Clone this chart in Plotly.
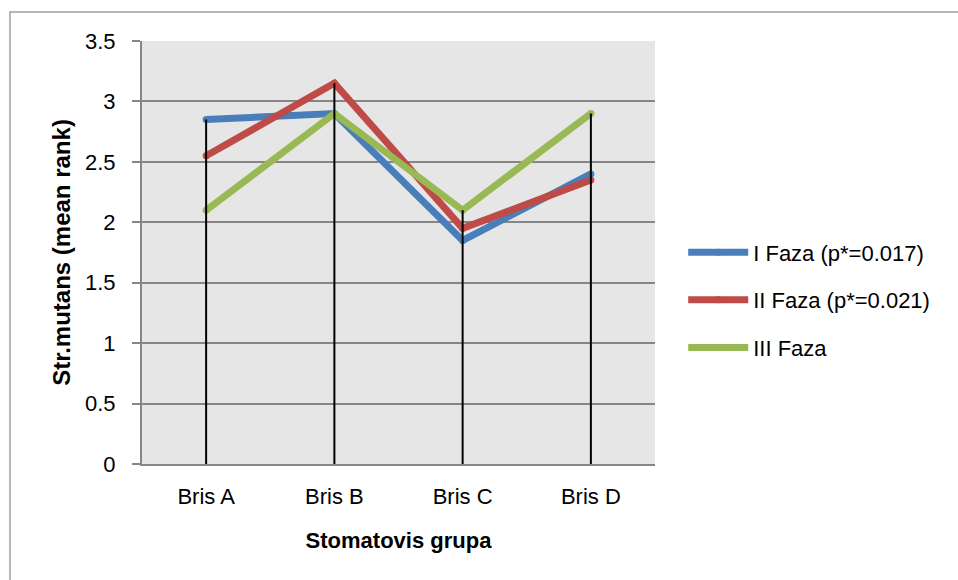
import plotly.graph_objects as go

# Mean rank of Str. mutans per swab group, for each phase
categories = ["Bris A", "Bris B", "Bris C", "Bris D"]
faza_1 = [2.85, 2.90, 1.85, 2.40]
faza_2 = [2.55, 3.15, 1.95, 2.35]
faza_3 = [2.10, 2.90, 2.10, 2.90]
series_names = ["I Faza (p*=0.017)", "II Faza (p*=0.021)", "III Faza"]
series_colors = ["#4A7EBB", "#BE4B48", "#98B954"]
y_ticks = [0, 0.5, 1, 1.5, 2, 2.5, 3, 3.5]
y_tick_labels = ["0", "0.5", "1", "1.5", "2", "2.5", "3", "3.5"]

FONT = "Liberation Sans, Arial, sans-serif"

fig = go.Figure()

# Thick lines; same-colour round markers give the rounded joins and ends
for name, vals, color in zip(series_names, [faza_1, faza_2, faza_3], series_colors):
    fig.add_trace(go.Scatter(
        x=categories, y=vals, name=name, mode="lines+markers",
        line=dict(color=color, width=7),
        marker=dict(color=color, size=7, symbol="circle", line=dict(width=0)),
        legendgroup=name,
    ))

# Drop lines from the highest series value down to the category axis
drop_x, drop_y = [], []
for i, cat in enumerate(categories):
    top = max(faza_1[i], faza_2[i], faza_3[i])
    drop_x += [cat, cat, None]
    drop_y += [0, top, None]
fig.add_trace(go.Scatter(
    x=drop_x, y=drop_y, mode="lines", showlegend=False,
    line=dict(color="black", width=2), hoverinfo="skip",
))

fig.update_layout(
    width=958, height=580,
    margin=dict(l=142, r=303, t=41, b=116),
    paper_bgcolor="white",
    plot_bgcolor="#E6E6E6",
    font=dict(family=FONT, size=22, color="black"),
    showlegend=True,
    legend=dict(
        x=1.055, y=0.388, xanchor="left", yanchor="middle",
        font=dict(family=FONT, size=22, color="black"),
        tracegroupgap=16, itemwidth=60,
        bgcolor="rgba(0,0,0,0)",
    ),
    xaxis=dict(
        type="category", range=[-0.5, 3.5],
        showgrid=False, zeroline=False,
        showline=True, linecolor="#868686", linewidth=2,
        ticks="", ticklabelstandoff=12,
        title=dict(text="<b>Stomatovis grupa</b>", font=dict(size=22), standoff=24),
    ),
    yaxis=dict(
        range=[0, 3.5], tickvals=y_ticks, ticktext=y_tick_labels,
        showgrid=True, gridcolor="#868686", gridwidth=2,
        zeroline=False, showline=True, linecolor="#868686", linewidth=2,
        ticks="outside", ticklen=8, tickcolor="#868686", tickwidth=2,
        ticklabelstandoff=12,
        title=dict(text="<b>Str.mutans (mean rank)</b>", font=dict(size=24), standoff=8),
    ),
    shapes=[dict(
        type="rect", xref="paper", yref="paper",
        x0=-132 / 513, x1=1.7, y0=-1.0, y1=1 + 29 / 423,
        line=dict(color="#A0A0A0", width=1.5), fillcolor="rgba(0,0,0,0)",
        layer="below",
    )],
)

fig.write_html("out.html")
